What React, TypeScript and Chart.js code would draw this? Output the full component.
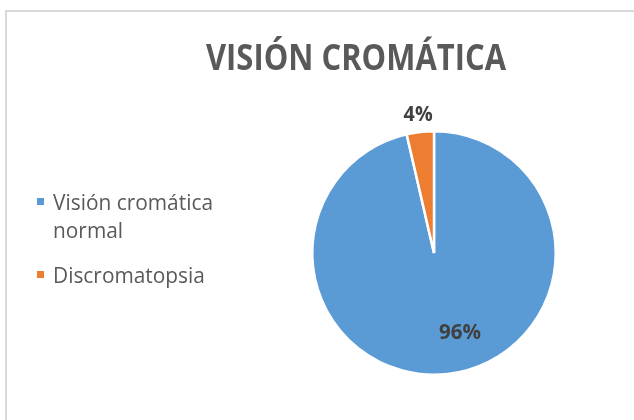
import React, { useEffect, useRef } from "react";
import { Chart, registerables } from "chart.js";

Chart.register(...registerables);

const TITLE = "VISIÓN CROMÁTICA";
const categories = ["Visión cromática normal", "Discromatopsia"];
const legendLines = [["Visión cromática", "normal"], ["Discromatopsia"]];
const values = [96.4, 3.6];
const colors = ["#5B9BD5", "#ED7D31"];
const pctLabels = ["96%", "4%"];

const FONT = "'Open Sans', 'DejaVu Sans', sans-serif";

function drawFit(ctx: CanvasRenderingContext2D, text: string, x: number, y: number, sx: number) {
  ctx.save();
  ctx.translate(x, y);
  ctx.scale(sx, 1);
  ctx.fillText(text, 0, 0);
  ctx.restore();
}

const decor = {
  id: "decor",
  beforeDraw(chart: any) {
    const ctx = chart.ctx as CanvasRenderingContext2D;
    ctx.save();
    ctx.fillStyle = "#ffffff";
    ctx.fillRect(0, 0, chart.width, chart.height);
    ctx.strokeStyle = "#d9d9d9";
    ctx.lineWidth = 2;
    ctx.strokeRect(6, 11, chart.width + 20, chart.height + 20);
    ctx.restore();
  },
  afterDraw(chart: any) {
    const ctx = chart.ctx as CanvasRenderingContext2D;
    ctx.save();
    ctx.textBaseline = "alphabetic";
    ctx.textAlign = "left";
    // title
    ctx.fillStyle = "#595959";
    ctx.font = `bold 35px ${FONT}`;
    const tw = ctx.measureText(TITLE).width;
    drawFit(ctx, TITLE, 206, 70, 300 / tw);
    // legend
    ctx.font = `22px ${FONT}`;
    const lw = ctx.measureText(legendLines[0][0]).width;
    const ls = 160 / lw;
    const blocks = [{ sq: 198, base: 210 }, { sq: 271, base: 283 }];
    legendLines.forEach((lines, i) => {
      ctx.fillStyle = colors[i];
      ctx.fillRect(37, blocks[i].sq, 7, 7);
      ctx.fillStyle = "#595959";
      lines.forEach((t, j) => drawFit(ctx, t, 53, blocks[i].base + j * 28, ls));
    });
    // data labels
    const meta = chart.getDatasetMeta(0);
    ctx.fillStyle = "#404040";
    ctx.font = `bold 22px ${FONT}`;
    ctx.textAlign = "center";
    meta.data.forEach((arc: any, i: number) => {
      const { x, y, startAngle, endAngle, outerRadius } = arc.getProps(["x", "y", "startAngle", "endAngle", "outerRadius"], true);
      const mid = (startAngle + endAngle) / 2;
      let a = mid, d = outerRadius + 19;
      if (i === 0) { a = mid - (12 * Math.PI) / 180; d = outerRadius * 0.675; }
      const cx = x + Math.cos(a) * d;
      const cy = y + Math.sin(a) * d;
      const w = ctx.measureText(pctLabels[i]).width;
      const target = i === 0 ? 42 : 29;
      ctx.save();
      ctx.translate(cx, cy + 8);
      ctx.scale(target / w, 1);
      ctx.fillText(pctLabels[i], 0, 0);
      ctx.restore();
    });
    ctx.restore();
  },
};

export default function App() {
  const ref = useRef<HTMLCanvasElement>(null);
  useEffect(() => {
    const chart = new Chart(ref.current!, {
      type: "pie",
      data: {
        labels: categories,
        datasets: [
          {
            data: values,
            backgroundColor: colors,
            borderColor: "#ffffff",
            borderWidth: 2.5,
          },
        ],
      },
      options: {
        animation: false,
        responsive: false,
        layout: { padding: { left: 311, right: 77, top: 130, bottom: 44 } },
        plugins: { legend: { display: false }, title: { display: false }, tooltip: { enabled: false } },
      },
      plugins: [decor],
    });
    return () => chart.destroy();
  }, []);
  return (
    <div style={{ position: "fixed", left: 0, top: 0, width: 634, height: 420 }}>
      <canvas ref={ref} width={634} height={420} />
    </div>
  );
}
